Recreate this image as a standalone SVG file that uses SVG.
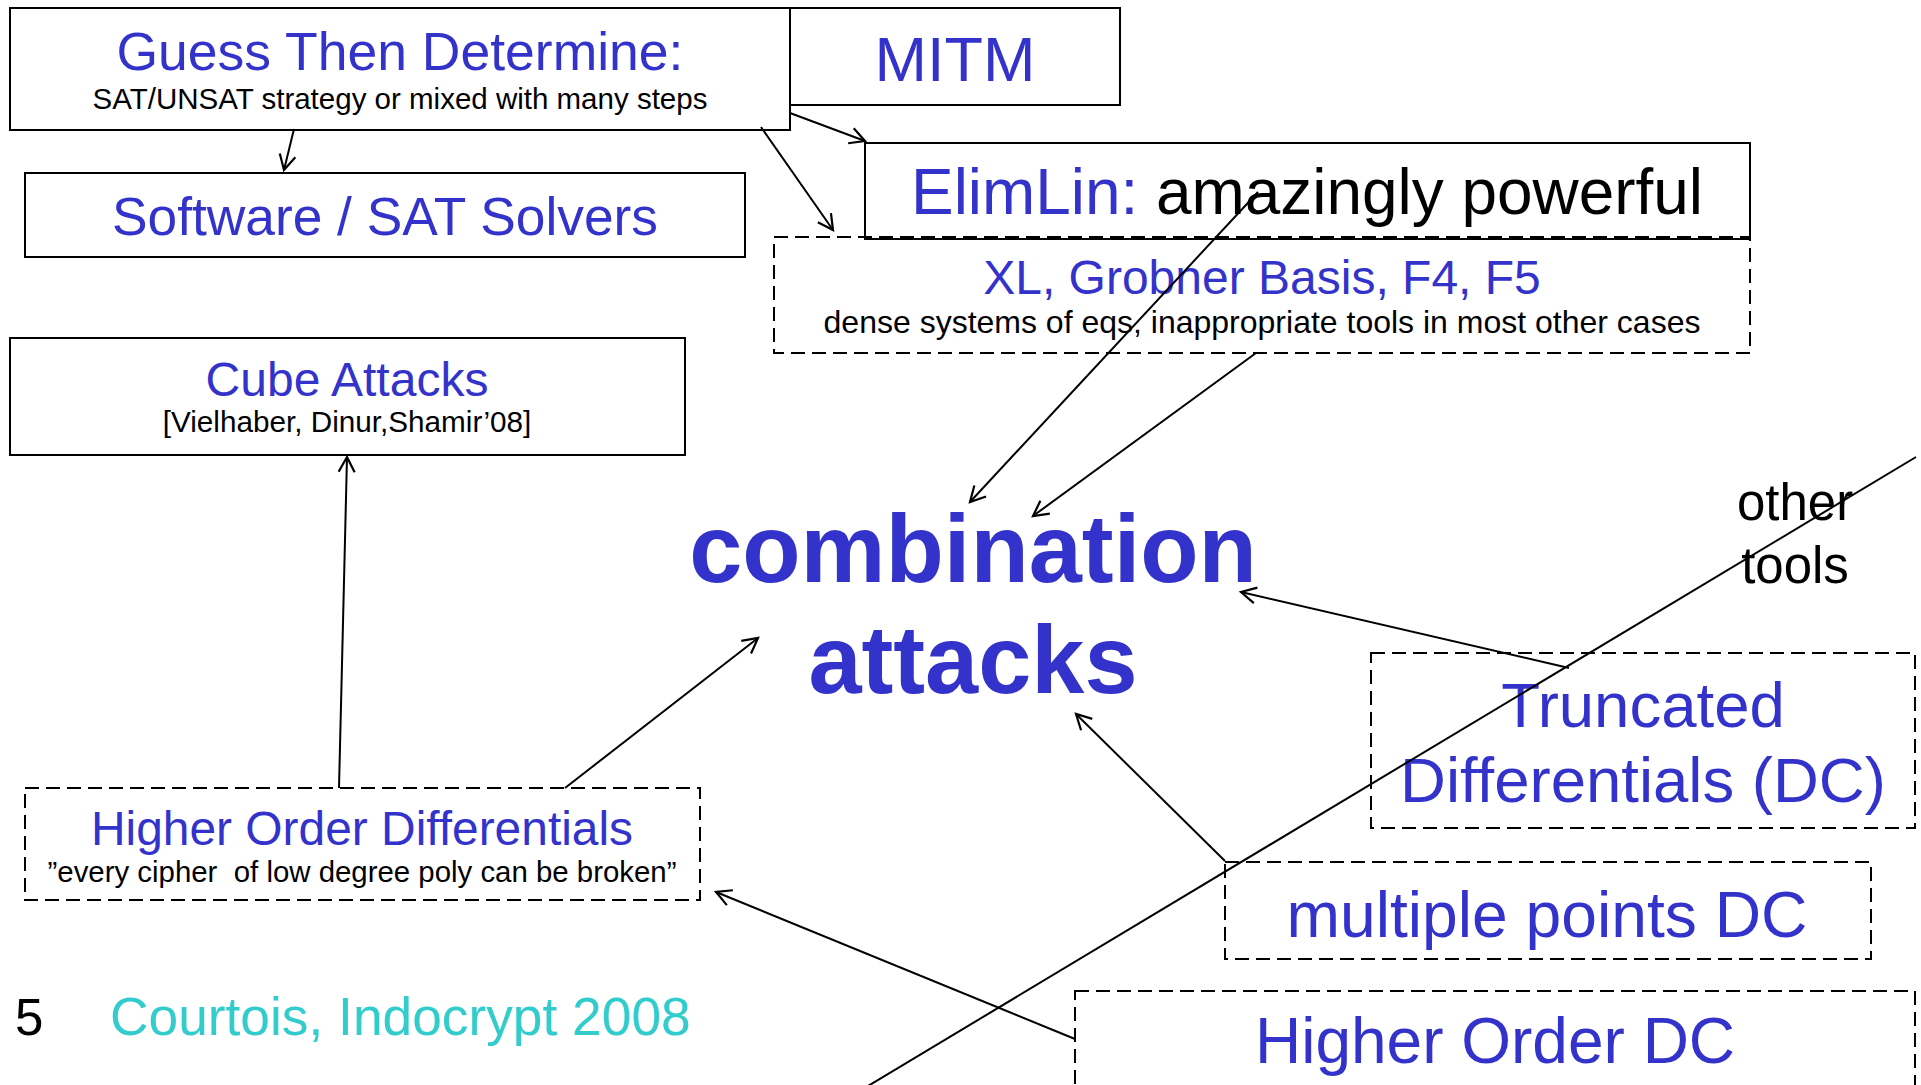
<svg xmlns="http://www.w3.org/2000/svg" width="1921" height="1085" viewBox="0 0 1921 1085">
  <defs>
    <style>
      text { font-family: "Liberation Sans", Arial, sans-serif; text-anchor: middle; }
      .box { fill: none; stroke: #000; stroke-width: 2; }
      .dbox { fill: none; stroke: #000; stroke-width: 2; stroke-dasharray: 14 7; }
      .blue { fill: #3333CC; }
      .black { fill: #000; }
      .cyan { fill: #33CCCC; }
      .pre { white-space: pre; }
      .link { stroke: #000; stroke-width: 2; fill: none; }
      .arrow { marker-end: url(#head); }
    </style>
    <marker id="head" markerUnits="userSpaceOnUse" markerWidth="30" markerHeight="30" refX="0" refY="0" viewBox="-20 -15 30 30" orient="auto">
      <path d="M -15,-8 L 0,0 L -15,8" fill="none" stroke="#000" stroke-width="2.2"/>
    </marker>
  </defs>

  <rect width="1921" height="1085" fill="#fff"/>

  <g id="guess">
    <rect class="box" x="10" y="8" width="780" height="122"/>
    <text class="blue" x="400" y="70" font-size="53.5">Guess Then Determine:</text>
    <text class="black" x="400" y="109" font-size="29.5">SAT/UNSAT strategy or mixed with many steps</text>
  </g>

  <g id="mitm">
    <rect class="box" x="790" y="8" width="330" height="97"/>
    <text class="blue" x="955" y="81" font-size="63">MITM</text>
  </g>

  <g id="software">
    <rect class="box" x="25" y="173" width="720" height="84"/>
    <text class="blue" x="385" y="235" font-size="53.3">Software / SAT Solvers</text>
  </g>

  <g id="xl">
    <rect class="dbox" x="774" y="237" width="976" height="116"/>
    <text class="blue" x="1262" y="294" font-size="48">XL, Grobner Basis, F4, F5</text>
    <text class="black" x="1262" y="333" font-size="32">dense systems of eqs, inappropriate tools in most other cases</text>
  </g>

  <g id="elimlin">
    <rect class="box" x="865" y="143" width="885" height="96"/>
    <text x="1307" y="214" font-size="63.9"><tspan class="blue">ElimLin: </tspan><tspan class="black">amazingly powerful</tspan></text>
  </g>

  <g id="cube">
    <rect class="box" x="10" y="338" width="675" height="117"/>
    <text class="blue" x="347" y="396" font-size="48">Cube Attacks</text>
    <text class="black" x="347" y="432" font-size="29.7">[Vielhaber, Dinur,Shamir’08]</text>
  </g>

  <g id="combination">
    <text class="blue" x="973" y="582" font-size="95.5" font-weight="bold">combination</text>
    <text class="blue" x="973" y="693" font-size="95.5" font-weight="bold">attacks</text>
  </g>

  <g id="other-tools">
    <text class="black" x="1795" y="520" font-size="51">other</text>
    <text class="black" x="1795" y="583" font-size="51">tools</text>
  </g>

  <g id="truncated">
    <rect class="dbox" x="1371" y="653" width="544" height="175"/>
    <text class="blue" x="1643" y="727" font-size="63.5">Truncated</text>
    <text class="blue" x="1643" y="802" font-size="63.5">Differentials (DC)</text>
  </g>

  <g id="multiple-points">
    <rect class="dbox" x="1225" y="862" width="646" height="97"/>
    <text class="blue" x="1547" y="937" font-size="64.2">multiple points DC</text>
  </g>

  <g id="higher-order-dc">
    <rect class="dbox" x="1075" y="991" width="840" height="120"/>
    <text class="blue" x="1495" y="1063" font-size="64">Higher Order DC</text>
  </g>

  <g id="hod">
    <rect class="dbox" x="25" y="788" width="675" height="112"/>
    <text class="blue" x="362" y="845" font-size="47.9">Higher Order Differentials</text>
    <text class="black pre" x="362" y="882" font-size="29.4">”every cipher  of low degree poly can be broken”</text>
  </g>

  <g id="footer">
    <text class="black" x="15" y="1035" font-size="51" style="text-anchor:start">5</text>
    <text class="cyan" x="110" y="1035" font-size="53.3" style="text-anchor:start">Courtois, Indocrypt 2008</text>
  </g>

  <g id="connectors">
    <line class="link arrow" x1="294" y1="129" x2="284" y2="170"/>
    <line class="link arrow" x1="761" y1="127" x2="833" y2="230"/>
    <line class="link arrow" x1="790" y1="113" x2="865" y2="141"/>
    <line class="link arrow" x1="1258" y1="192" x2="970" y2="502"/>
    <line class="link arrow" x1="1256" y1="353" x2="1033" y2="516"/>
    <line class="link arrow" x1="339" y1="788" x2="347" y2="457"/>
    <line class="link arrow" x1="565" y1="788" x2="758" y2="638"/>
    <line class="link arrow" x1="1569" y1="668" x2="1241" y2="592"/>
    <line class="link arrow" x1="1225" y1="861" x2="1076" y2="714"/>
    <line class="link arrow" x1="1075" y1="1039" x2="716" y2="892"/>
    <line class="link" x1="868" y1="1086" x2="1916" y2="457"/>
  </g>
</svg>
